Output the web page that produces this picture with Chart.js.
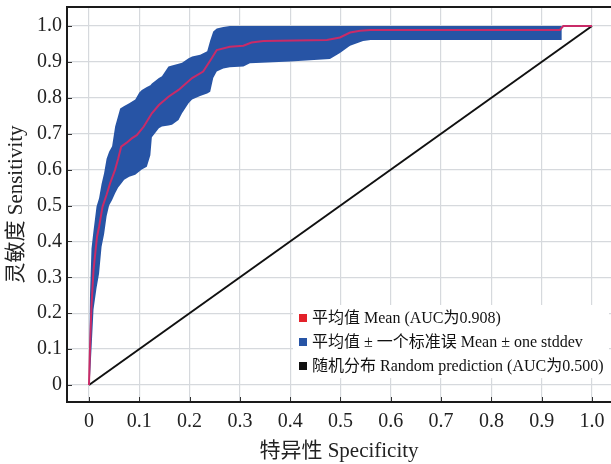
<!DOCTYPE html>
<html>
<head>
<meta charset="utf-8">
<script src="https://cdn.jsdelivr.net/npm/chart.js@4.4.0/dist/chart.umd.min.js"></script>
<style>
html, body { margin: 0; padding: 0; background: #fff; overflow: hidden; }
#wrap { width: 611px; height: 464px; position: relative; }
</style>
</head>
<body>
<div id="wrap"><canvas id="roc"></canvas></div>
<script>
// curva media (x = especificidad, y = sensibilidad)
const meanX = [0, 0.002, 0.0046, 0.009, 0.016, 0.02, 0.027, 0.035, 0.042, 0.052, 0.058, 0.064, 0.075, 0.085, 0.095, 0.109, 0.125, 0.139, 0.158, 0.178, 0.205, 0.227, 0.244, 0.254, 0.28, 0.307, 0.323, 0.347, 0.473, 0.499, 0.519, 0.539, 0.56, 0.936, 0.943, 1];
const meanY = [0, 0.1, 0.209, 0.32, 0.413, 0.44, 0.497, 0.53, 0.562, 0.6, 0.63, 0.664, 0.675, 0.687, 0.696, 0.72, 0.757, 0.78, 0.803, 0.822, 0.855, 0.873, 0.91, 0.933, 0.942, 0.945, 0.954, 0.958, 0.961, 0.968, 0.982, 0.987, 0.989, 0.989, 1, 1];

// banda +- desviacion
const bandX = [0, 0.002, 0.005, 0.009, 0.015, 0.02, 0.025, 0.03, 0.035, 0.04, 0.046, 0.052, 0.058, 0.062, 0.07, 0.08, 0.092, 0.1, 0.105, 0.115, 0.122, 0.125, 0.139, 0.145, 0.158, 0.165, 0.178, 0.185, 0.198, 0.205, 0.221, 0.235, 0.241, 0.247, 0.254, 0.267, 0.28, 0.307, 0.32, 0.4, 0.479, 0.499, 0.519, 0.545, 0.56, 0.94];
const upperY = [0, 0.25, 0.38, 0.43, 0.497, 0.52, 0.56, 0.59, 0.63, 0.65, 0.665, 0.72, 0.75, 0.77, 0.777, 0.785, 0.795, 0.815, 0.822, 0.83, 0.835, 0.84, 0.855, 0.86, 0.887, 0.89, 0.895, 0.898, 0.91, 0.915, 0.92, 0.93, 0.96, 0.985, 0.993, 0.997, 1, 1, 1, 1, 1, 1, 1, 1, 1, 1];
const lowerY = [0, 0.02, 0.1, 0.21, 0.27, 0.31, 0.385, 0.42, 0.47, 0.5, 0.515, 0.534, 0.55, 0.557, 0.572, 0.58, 0.586, 0.595, 0.6, 0.608, 0.64, 0.69, 0.715, 0.72, 0.723, 0.725, 0.738, 0.757, 0.785, 0.795, 0.805, 0.812, 0.817, 0.855, 0.873, 0.882, 0.885, 0.887, 0.896, 0.901, 0.908, 0.925, 0.945, 0.958, 0.961, 0.961];

// diagonal aleatoria
const randomX = [0, 1];
const randomY = [0, 1];

const tickVals = [0, 0.1, 0.2, 0.3, 0.4, 0.5, 0.6, 0.7, 0.8, 0.9, 1.0];
const tickLabels = ['0', '0.1', '0.2', '0.3', '0.4', '0.5', '0.6', '0.7', '0.8', '0.9', '1.0'];

const labelMean = '平均值 Mean (AUC为0.908)';
const labelBand = '平均值 ± 一个标准误 Mean ± one stddev';
const labelRandom = '随机分布 Random prediction (AUC为0.500)';
const xTitle = '特异性 Specificity';
const yTitle = '灵敏度 Sensitivity';

const FONT = '"Liberation Serif", "Times New Roman", "Noto Sans CJK SC", serif';
const BLUE = '#2754a5';

const pts = (xs, ys) => xs.map((x, i) => ({ x: x, y: ys[i] }));

// marco + ticks hacia dentro
const frame = {
    id: 'frame',
    afterDraw(chart) {
        const { ctx, chartArea: a, scales } = chart;
        ctx.save();
        ctx.strokeStyle = '#333';
        ctx.lineWidth = 1;
        tickVals.forEach(v => {
            const px = Math.round(scales.x.getPixelForValue(v)) + 0.5;
            ctx.beginPath(); ctx.moveTo(px, a.bottom); ctx.lineTo(px, a.bottom - 5); ctx.stroke();
            const py = Math.round(scales.y.getPixelForValue(v)) + 0.5;
            ctx.beginPath(); ctx.moveTo(a.left, py); ctx.lineTo(a.left + 5, py); ctx.stroke();
        });
        ctx.strokeStyle = '#1a1a1a';
        ctx.lineWidth = 2;
        ctx.beginPath();
        ctx.moveTo(a.right + 2, a.top);
        ctx.lineTo(a.left, a.top);
        ctx.lineTo(a.left, a.bottom);
        ctx.lineTo(a.right + 2, a.bottom);
        ctx.stroke();
        ctx.restore();
    }
};

// leyenda dentro del area
const legendBox = {
    id: 'legendBox',
    afterDraw(chart) {
        const { ctx } = chart;
        const items = chart.data.datasets.filter(d => d.legendColor).sort((p, q) => p.legendPos - q.legendPos);
        ctx.save();
        ctx.fillStyle = '#fff';
        ctx.fillRect(293, 305, 316, 73);
        ctx.font = '16px ' + FONT;
        ctx.textBaseline = 'middle';
        items.forEach((d, i) => {
            const y = 318 + i * 24;
            ctx.fillStyle = d.legendColor;
            ctx.fillRect(299, y - 4, 8, 8);
            ctx.fillStyle = '#111';
            ctx.fillText(d.label, 312, y + 1);
        });
        ctx.restore();
    }
};

const gridOpts = { color: '#d6d9dd', lineWidth: 1.2, drawTicks: false };

new Chart(document.getElementById('roc'), {
    type: 'line',
    data: {
        datasets: [
            { label: labelBand, legendColor: BLUE, legendPos: 2, data: pts(bandX, upperY), borderWidth: 0, pointRadius: 0, backgroundColor: BLUE, fill: '+1', order: 3 },
            { label: '', data: pts(bandX, lowerY), borderWidth: 0, pointRadius: 0, fill: false, order: 3 },
            { label: labelMean, legendColor: '#e3212a', legendPos: 1, data: pts(meanX, meanY), borderColor: '#c92b68', borderWidth: 2, pointRadius: 0, fill: false, order: 1 },
            { label: labelRandom, legendColor: '#111', legendPos: 3, data: pts(randomX, randomY), borderColor: '#111', borderWidth: 2, pointRadius: 0, fill: false, order: 2 }
        ]
    },
    options: {
        responsive: true,
        maintainAspectRatio: false,
        animation: false,
        devicePixelRatio: 1,
        layout: { padding: { top: 7, right: 0, left: 0, bottom: 0 } },
        plugins: { legend: { display: false }, tooltip: { enabled: false } },
        scales: {
            x: {
                type: 'linear',
                min: -0.0437,
                max: 1.0378,
                grid: gridOpts,
                border: { display: false },
                afterBuildTicks: s => { s.ticks = tickVals.map(v => ({ value: v })); },
                afterFit: s => { s.height = 62; s.paddingLeft = 0; s.paddingRight = 0; },
                ticks: { padding: 8, color: '#222', font: { family: FONT, size: 20 }, maxRotation: 0, autoSkip: false,
                    callback: (v, i) => tickLabels[i] },
                title: { display: true, text: xTitle, color: '#222', font: { family: FONT, size: 21 }, padding: { top: 0, bottom: 0 } }
            },
            y: {
                type: 'linear',
                min: -0.0474,
                max: 1.053,
                grid: gridOpts,
                border: { display: false },
                afterBuildTicks: s => { s.ticks = tickVals.map(v => ({ value: v })); },
                afterFit: s => { s.width = 67; s.paddingTop = 0; s.paddingBottom = 0; },
                ticks: { padding: 5, color: '#222', font: { family: FONT, size: 20 }, autoSkip: false,
                    callback: (v, i) => tickLabels[i] },
                title: { display: true, text: yTitle, color: '#222', font: { family: FONT, size: 21 }, padding: { top: 4, bottom: 0 } }
            }
        }
    },
    plugins: [frame, legendBox]
});
</script>
</body>
</html>
